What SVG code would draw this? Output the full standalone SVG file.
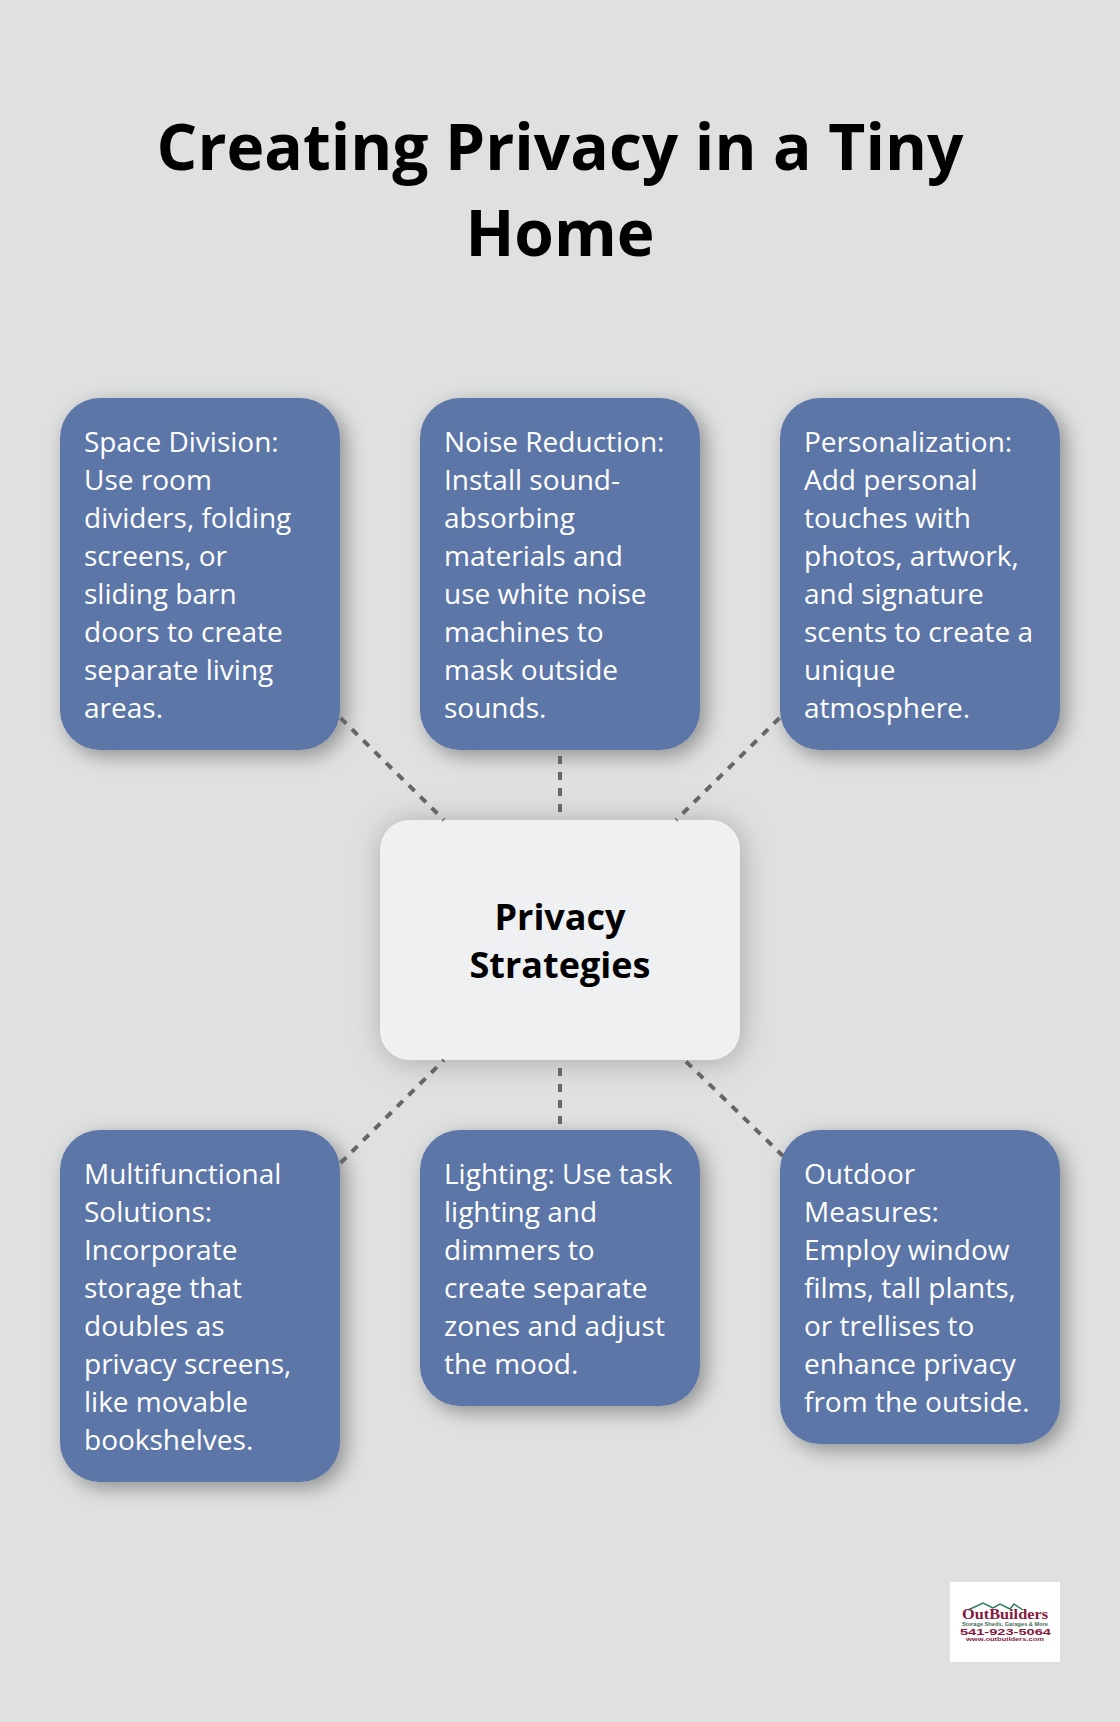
<svg xmlns="http://www.w3.org/2000/svg" width="1120" height="1722" viewBox="0 0 1120 1722">
<defs>
<filter id="sh" x="-30%" y="-30%" width="160%" height="160%"><feDropShadow dx="6" dy="6" stdDeviation="10" flood-color="#000" flood-opacity="0.36"/></filter>
<filter id="shc" x="-30%" y="-30%" width="160%" height="160%"><feDropShadow dx="2" dy="2" stdDeviation="15" flood-color="#000" flood-opacity="0.25"/></filter>
</defs>
<style>
text{font-family:"Open Sans","Noto Sans","Liberation Sans",sans-serif}
.title{font-size:64px;font-weight:700;fill:#000;text-anchor:middle}
.n{fill:#5c76a8;filter:url(#sh)}
.c{fill:#eef0f2;filter:url(#shc)}
.b{font-size:28px;fill:#fff}
.cb{font-size:36px;font-weight:700;fill:#000;text-anchor:middle}
.l{stroke:#666;stroke-width:4;stroke-dasharray:8 8;fill:none}
</style>
<rect width="1120" height="1722" fill="#dfe1e0"/>
<g id="title"><text class="title" x="560" y="170">Creating Privacy in a Tiny</text><text class="title" x="560" y="256">Home</text></g>
<g id="node-space"><rect class="n" x="60" y="398" width="280" height="352" rx="40"/>
<text class="b"><tspan x="84" y="452">Space Division:</tspan><tspan x="84" y="490">Use room</tspan><tspan x="84" y="528">dividers, folding</tspan><tspan x="84" y="566">screens, or</tspan><tspan x="84" y="604">sliding barn</tspan><tspan x="84" y="642">doors to create</tspan><tspan x="84" y="680">separate living</tspan><tspan x="84" y="718">areas.</tspan></text></g>
<g id="node-noise"><rect class="n" x="420" y="398" width="280" height="352" rx="40"/>
<text class="b"><tspan x="444" y="452">Noise Reduction:</tspan><tspan x="444" y="490">Install sound-</tspan><tspan x="444" y="528">absorbing</tspan><tspan x="444" y="566">materials and</tspan><tspan x="444" y="604">use white noise</tspan><tspan x="444" y="642">machines to</tspan><tspan x="444" y="680">mask outside</tspan><tspan x="444" y="718">sounds.</tspan></text></g>
<g id="node-personal"><rect class="n" x="780" y="398" width="280" height="352" rx="40"/>
<text class="b"><tspan x="804" y="452">Personalization:</tspan><tspan x="804" y="490">Add personal</tspan><tspan x="804" y="528">touches with</tspan><tspan x="804" y="566">photos, artwork,</tspan><tspan x="804" y="604">and signature</tspan><tspan x="804" y="642">scents to create a</tspan><tspan x="804" y="680">unique</tspan><tspan x="804" y="718">atmosphere.</tspan></text></g>
<g id="node-multi"><rect class="n" x="60" y="1130" width="280" height="352" rx="40"/>
<text class="b"><tspan x="84" y="1184">Multifunctional</tspan><tspan x="84" y="1222">Solutions:</tspan><tspan x="84" y="1260">Incorporate</tspan><tspan x="84" y="1298">storage that</tspan><tspan x="84" y="1336">doubles as</tspan><tspan x="84" y="1374">privacy screens,</tspan><tspan x="84" y="1412">like movable</tspan><tspan x="84" y="1450">bookshelves.</tspan></text></g>
<g id="node-lighting"><rect class="n" x="420" y="1130" width="280" height="276" rx="40"/>
<text class="b"><tspan x="444" y="1184">Lighting: Use task</tspan><tspan x="444" y="1222">lighting and</tspan><tspan x="444" y="1260">dimmers to</tspan><tspan x="444" y="1298">create separate</tspan><tspan x="444" y="1336">zones and adjust</tspan><tspan x="444" y="1374">the mood.</tspan></text></g>
<g id="node-outdoor"><rect class="n" x="780" y="1130" width="280" height="314" rx="40"/>
<text class="b"><tspan x="804" y="1184">Outdoor</tspan><tspan x="804" y="1222">Measures:</tspan><tspan x="804" y="1260">Employ window</tspan><tspan x="804" y="1298">films, tall plants,</tspan><tspan x="804" y="1336">or trellises to</tspan><tspan x="804" y="1374">enhance privacy</tspan><tspan x="804" y="1412">from the outside.</tspan></text></g>
<g id="node-center"><rect class="c" x="380" y="820" width="360" height="240" rx="30"/>
<text class="cb"><tspan x="560" y="930">Privacy</tspan><tspan x="560" y="978">Strategies</tspan></text></g>
<g id="connectors">
<line class="l" x1="340.5" y1="718" x2="444" y2="820"/>
<line class="l" x1="560" y1="756" x2="560" y2="820"/>
<line class="l" x1="779.5" y1="718" x2="676" y2="820"/>
<line class="l" x1="340.5" y1="1163" x2="444" y2="1060"/>
<line class="l" x1="560" y1="1068" x2="560" y2="1130"/>
<line class="l" x1="686" y1="1061.5" x2="783" y2="1156"/>
</g>
<g id="logo"><rect x="950" y="1582" width="110" height="80" fill="#fff"/>
<path d="M968 1610 L983 1603 L993 1608 L1000 1604 L1010 1609 L1014 1604 L1023 1610" fill="none" stroke="#2f7d5b" stroke-width="1.5"/>
<text x="962" y="1619" textLength="86" lengthAdjust="spacingAndGlyphs" style="font-family:'Liberation Serif',serif;font-size:15px;font-weight:700;fill:#85193f">OutBuilders</text>
<text x="962" y="1626" textLength="86" lengthAdjust="spacingAndGlyphs" style="font-family:'Liberation Sans',sans-serif;font-size:5px;font-weight:700;fill:#3f6b4f">Storage Sheds, Garages &amp; More</text>
<text x="960" y="1635" textLength="91" lengthAdjust="spacingAndGlyphs" style="font-family:'Liberation Sans',sans-serif;font-size:9px;font-weight:700;fill:#85193f">541-923-5064</text>
<text x="966" y="1640.5" textLength="78" lengthAdjust="spacingAndGlyphs" style="font-family:'Liberation Sans',sans-serif;font-size:5.5px;font-weight:700;fill:#85193f">www.outbuilders.com</text></g>
</svg>
